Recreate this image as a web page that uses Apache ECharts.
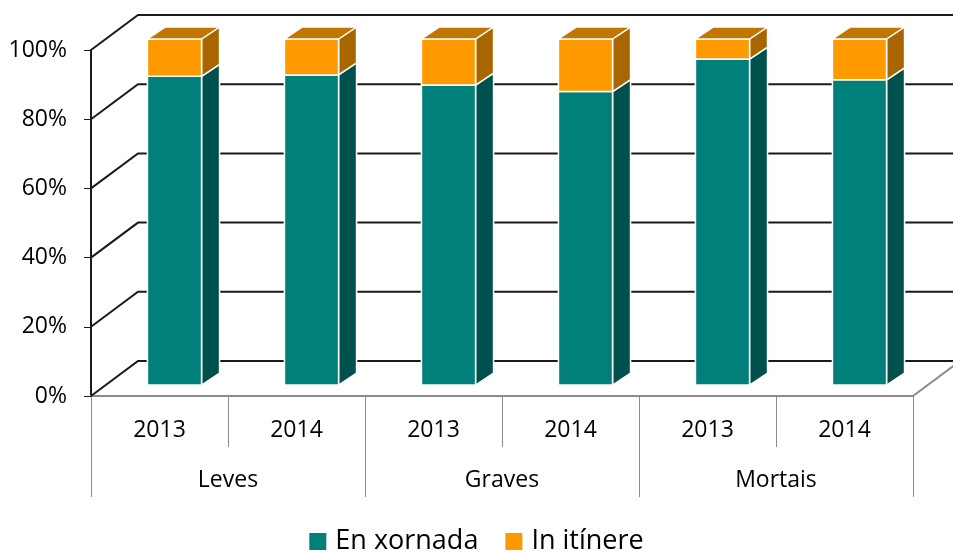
<!DOCTYPE html>
<html>
<head>
<meta charset="utf-8">
<script src="https://cdn.jsdelivr.net/npm/echarts@6/dist/echarts.min.js"></script>
<style>
  html, body { margin: 0; padding: 0; background: #fff; }
  #chart { width: 953px; height: 554px; }
</style>
</head>
<body>
<div id="chart"></div>
<script>
// data
const years = ["2013", "2014", "2013", "2014", "2013", "2014"];
const groups = ["Leves", "Graves", "Mortais"];
const enXornada = [89.2, 89.6, 86.7, 84.8, 94.2, 88.2];
const inItinere = enXornada.map(v => +(100 - v).toFixed(1));
const yTicks = [0, 20, 40, 60, 80, 100];

// 3d look
const WALL_DX = 47, WALL_DY = -35;   // back wall offset
const BAR_DX = 15, BAR_DY = -11;     // bar front face offset
const SIDE_DX = 18, SIDE_DY = -12;   // bar depth
const BAR_W = 0.395;                 // of band width

const teal = { front: "#007F7B", side: "#00504E" };
const orange = { front: "#FF9900", side: "#A86500", top: "#C07600" };

function barItem(colors, withTop) {
    return function (params, api) {
        const i = api.value(0);
        const pb = api.coord([i, api.value(1)]);
        const pt = api.coord([i, api.value(2)]);
        const w = api.size([1, 0])[0] * BAR_W;
        const xl = pb[0] - w / 2 + BAR_DX, xr = xl + w;
        const yb = pb[1] + BAR_DY, yt = pt[1] + BAR_DY;
        const st = { stroke: "#fff", lineWidth: 1.5, lineJoin: "round" };
        const children = [
            {
                type: "polygon",
                shape: { points: [[xr, yb], [xr, yt], [xr + SIDE_DX, yt + SIDE_DY], [xr + SIDE_DX, yb + SIDE_DY]] },
                style: Object.assign({ fill: colors.side }, st)
            },
            {
                type: "rect",
                shape: { x: xl, y: yt, width: w, height: yb - yt },
                style: Object.assign({ fill: colors.front }, st)
            }
        ];
        if (withTop) {
            children.push({
                type: "polygon",
                shape: { points: [[xl, yt], [xr, yt], [xr + SIDE_DX, yt + SIDE_DY], [xl + SIDE_DX, yt + SIDE_DY]] },
                style: Object.assign({ fill: colors.top }, st)
            });
        }
        return { type: "group", children: children };
    };
}

function wallItem(params, api) {
    const cs = params.coordSys;
    const y = api.coord([0, api.value(1)])[1];
    const x0 = cs.x, x1 = cs.x + cs.width;
    return {
        type: "polyline",
        shape: { points: [[x0, y], [x0 + WALL_DX, y + WALL_DY], [x1 + WALL_DX, y + WALL_DY]] },
        style: { stroke: "#1a1a1a", lineWidth: 2, fill: null }
    };
}

function floorItem(params, api) {
    const cs = params.coordSys;
    const y = cs.y + cs.height, x1 = cs.x + cs.width;
    return {
        type: "line",
        shape: { x1: x1, y1: y, x2: x1 + WALL_DX, y2: y + WALL_DY },
        style: { stroke: "#8c8c8c", lineWidth: 2 }
    };
}

const font = "'Open Sans', 'Noto Sans', sans-serif";

const chart = echarts.init(document.getElementById("chart"));
chart.setOption({
    animation: false,
    textStyle: { fontFamily: font },
    grid: { left: 91, right: 40, top: 50, bottom: 158 },
    legend: {
        bottom: -6,
        left: "center",
        itemWidth: 17,
        itemHeight: 17,
        itemGap: 27,
        icon: "rect",
        textStyle: { fontSize: 27, color: "#000", fontFamily: font, padding: [0, 0, 0, 4] },
        data: ["En xornada", "In itínere"]
    },
    xAxis: [
        {
            type: "category",
            data: years,
            axisLine: { lineStyle: { color: "#8c8c8c", width: 2 } },
            axisTick: { show: true, length: 51, lineStyle: { color: "#8c8c8c", width: 1 } },
            axisLabel: { margin: 23, fontSize: 23, color: "#000", fontFamily: font }
        },
        {
            type: "category",
            data: groups,
            position: "bottom",
            axisLine: { show: false },
            axisTick: { show: true, length: 101, lineStyle: { color: "#8c8c8c", width: 1 } },
            axisLabel: { margin: 73, fontSize: 23, color: "#000", fontFamily: font }
        }
    ],
    yAxis: {
        type: "value",
        min: 0,
        max: 100,
        interval: 20,
        axisLine: { show: true, lineStyle: { color: "#1a1a1a", width: 2 } },
        axisTick: { show: true, length: 7, lineStyle: { color: "#1a1a1a", width: 1 } },
        axisLabel: { formatter: "{value}%", margin: 24, fontSize: 23, color: "#000", fontFamily: font },
        splitLine: { show: false }
    },
    series: [
        {
            type: "custom",
            name: "walls",
            z: 1,
            silent: true,
            renderItem: wallItem,
            encode: { x: 0, y: 1 },
            data: yTicks.map(v => [0, v])
        },
        {
            type: "custom",
            name: "floor",
            z: 1,
            silent: true,
            renderItem: floorItem,
            data: [[0, 0]]
        },
        {
            type: "custom",
            name: "En xornada",
            z: 3,
            itemStyle: { color: teal.front },
            renderItem: barItem(teal, false),
            encode: { x: 0, y: [1, 2] },
            data: enXornada.map((v, i) => [i, 0, v])
        },
        {
            type: "custom",
            name: "In itínere",
            z: 3,
            itemStyle: { color: orange.front },
            renderItem: barItem(orange, true),
            encode: { x: 0, y: [1, 2] },
            data: inItinere.map((v, i) => [i, enXornada[i], enXornada[i] + v])
        }
    ]
});
</script>
</body>
</html>
